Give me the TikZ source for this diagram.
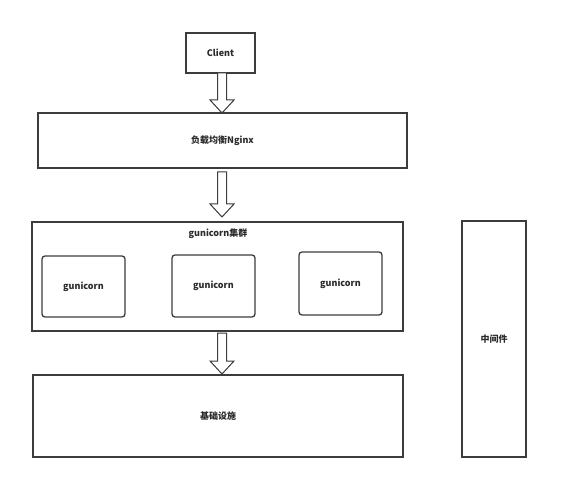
\documentclass[tikz,border=0pt]{standalone}
\usepackage{fontspec}
\setmainfont{Noto Sans CJK SC}
\usetikzlibrary{calc}
\definecolor{linec}{HTML}{3C3C3C}
\definecolor{textc}{HTML}{2A2A2A}
\tikzset{
  box/.style={draw=linec, line width=1.3pt, fill=white, inner sep=0pt, font=\bfseries\fontsize{9}{11}\selectfont, text=textc},
  rbox/.style={box, rounded corners=3pt},
  label/.style={inner sep=0pt, font=\bfseries\fontsize{9}{11}\selectfont, text=textc},
  harrow/.style={draw=linec, line width=1pt, fill=white, line join=miter}
}
\newcommand{\hollowarrow}[2]{%
  \path let \p1=(#1), \p2=(#2) in
    \pgfextra{\pgfmathsetmacro{\hx}{\x1}\pgfmathsetmacro{\ta}{\y1}\pgfmathsetmacro{\tb}{\y2}}
    [harrow] (\x1-4.5pt,\y1) -- (\x1+4.5pt,\y1) -- (\x1+4.5pt,\y2+13pt) -- (\x1+12pt,\y2+13pt)
    -- (\x1,\y2) -- (\x1-12pt,\y2+13pt) -- (\x1-4.5pt,\y2+13pt) -- cycle;}
\begin{document}
\begin{tikzpicture}[x=1pt,y=-1pt]
\useasboundingbox (0,0) rectangle (568,500);
\node[box, minimum width=69pt, minimum height=40pt] (client) at (220.5,53) {Client};
\node[box, minimum width=369pt, minimum height=55pt] (nginx) at (222.5,140.5) {负载均衡Nginx};
\node[box, minimum width=371pt, minimum height=109pt] (cluster) at (217.5,276.5) {};
\node[label] (ctitle) at (218,234) {gunicorn集群};
\node[rbox, minimum width=83pt, minimum height=61pt] (g1) at (83.5,286.5) {gunicorn};
\node[rbox, minimum width=83pt, minimum height=62pt] (g2) at (213.5,286) {gunicorn};
\node[rbox, minimum width=83pt, minimum height=63pt] (g3) at (340.5,283.5) {gunicorn};
\node[box, minimum width=370pt, minimum height=82pt] (infra) at (218,416) {基础设施};
\node[box, minimum width=64pt, minimum height=236pt] (mid) at (494,339) {中间件};
\coordinate (a1s) at (222,73);
\coordinate (a1e) at (222,113);
\coordinate (a2s) at (222,172);
\coordinate (a2e) at (222,217);
\coordinate (a3s) at (222,333);
\coordinate (a3e) at (222,374);
\hollowarrow{a1s}{a1e}
\hollowarrow{a2s}{a2e}
\hollowarrow{a3s}{a3e}
\end{tikzpicture}
\end{document}
